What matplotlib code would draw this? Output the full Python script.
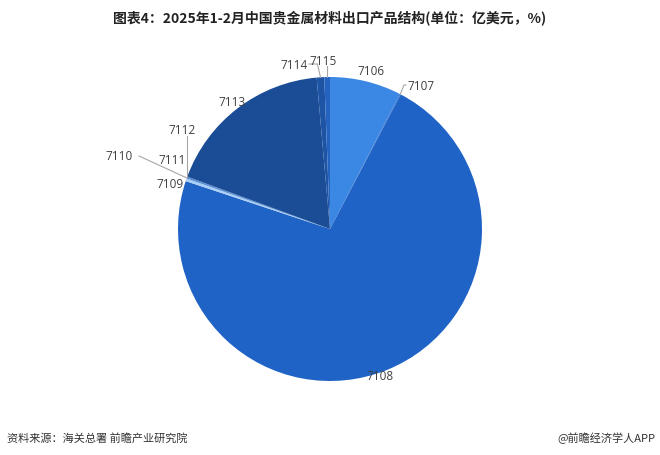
import numpy as np
import matplotlib.pyplot as plt

plt.rcParams['font.family'] = ['Noto Sans CJK SC', 'DejaVu Sans']

# product codes and share of export value (%)
codes = ['7106', '7107', '7108', '7109', '7110', '7111', '7112', '7113', '7114', '7115']
shares = [7.6, 0.1, 72.4, 0.3, 0.1, 0.05, 0.05, 18.0, 0.8, 0.6]
colors = ['#3b87e4', '#2a6fd2', '#1f63c6', '#a8cff5', '#3a7bd5', '#2d6cc8',
          '#245fb5', '#1b4c96', '#1d54a4', '#2463c0']

W, H = 660, 456
fig = plt.figure(figsize=(W / 100, H / 100), dpi=100)
ax = fig.add_axes([0, 0, 1, 1])
cx, cy, R = 330, H - 230, 152

wedges, _ = ax.pie(shares, colors=colors, startangle=90, counterclock=False,
                   center=(cx, cy), radius=R, frame=True,
                   wedgeprops=dict(linewidth=0))
ax.set_xlim(0, W)
ax.set_ylim(0, H)
ax.axis('off')

# label positions in pixels (from top-left), and whether a leader line is drawn
label_pos = {
    '7106': (371, 71, False), '7107': (421, 86, True), '7108': (380, 377, False),
    '7109': (170, 185, True), '7110': (119, 157, True), '7111': (172, 161, False),
    '7112': (182, 130, True), '7113': (232, 102, False), '7114': (294, 65, True),
    '7115': (323, 61, True),
}
line_c = '#a6a6a6'
for w, code in zip(wedges, codes):
    mid = np.deg2rad((w.theta1 + w.theta2) / 2)
    ex, ey = cx + R * np.cos(mid), cy + R * np.sin(mid)
    lx, ly, lead = label_pos[code]
    ly = H - ly
    ax.text(lx, ly, code, ha='center', va='center', fontsize=8.5,
            color='#404040', family='Open Sans')
    if not lead:
        continue
    if code == '7107':
        ax.plot([ex, 404, 406], [ey, ly, ly], color=line_c, lw=0.8)
    elif code == '7112':
        ax.plot([ex, ex], [ey, ly - 7], color=line_c, lw=0.8)
    elif code == '7110':
        ax.plot([lx + 20, ex], [ly, ey], color=line_c, lw=0.8)
    elif code == '7114':
        ax.plot([lx + 15, ex - 3, ex], [ly, ly, ey], color=line_c, lw=0.8)
    elif code == '7115':
        ax.plot([ex, ex], [ly - 6, ey], color=line_c, lw=0.8)

fig.text(0.5, 1 - 18 / H, '图表4：2025年1-2月中国贵金属材料出口产品结构(单位：亿美元，%)',
         ha='center', va='center', fontsize=10, fontweight='bold', color='#222222')
fig.text(7 / W, 1 - 438 / H, '资料来源：海关总署 前瞻产业研究院',
         ha='left', va='center', fontsize=8, color='#333333')
fig.text(1 - 5 / W, 1 - 438 / H, '@前瞻经济学人APP',
         ha='right', va='center', fontsize=8, color='#333333')

fig.savefig('out.png', dpi=100, facecolor='white')
